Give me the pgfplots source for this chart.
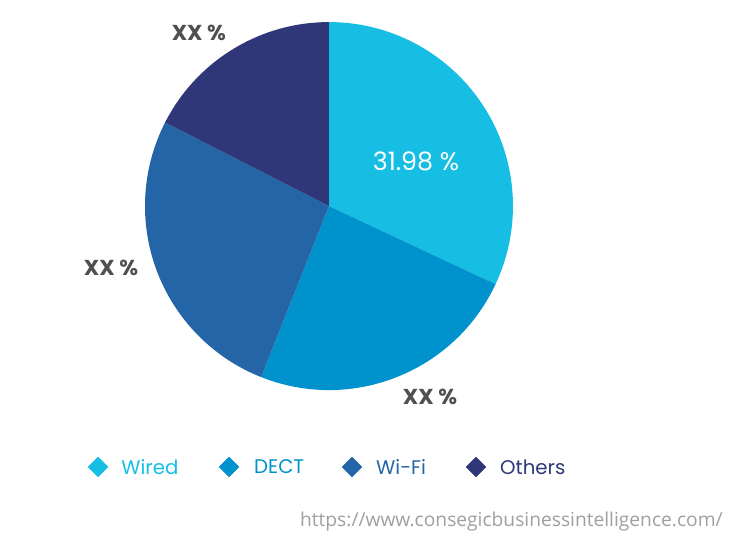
\documentclass[border=0pt]{standalone}
\usepackage{pgfplots}
\usepackage{pgfplotstable}
\pgfplotsset{compat=1.18}
\usepackage{fontspec}
\setmainfont{Poppins}
\newfontfamily\urlfont{Open Sans}
\definecolor{cWired}{RGB}{22,190,228}
\definecolor{cDECT}{RGB}{0,146,204}
\definecolor{cWiFi}{RGB}{35,101,166}
\definecolor{cOthers}{RGB}{48,55,120}
\definecolor{lab}{RGB}{80,80,80}
\pgfplotstableread{
label pct
Wired 31.98
DECT 24.03
WiFi 26.50
Others 17.49
}\pietable
\pgfplotstablegetelem{0}{pct}\of\pietable \let\pA\pgfplotsretval
\pgfplotstablegetelem{1}{pct}\of\pietable \let\pB\pgfplotsretval
\pgfplotstablegetelem{2}{pct}\of\pietable \let\pC\pgfplotsretval
\pgfplotstablegetelem{3}{pct}\of\pietable \let\pD\pgfplotsretval
\pgfmathsetmacro\aS{90}
\pgfmathsetmacro\aA{90-3.6*\pA}
\pgfmathsetmacro\aB{\aA-3.6*\pB}
\pgfmathsetmacro\aC{\aB-3.6*\pC}
\pgfmathsetmacro\aD{\aC-3.6*\pD}
\begin{document}
\begin{tikzpicture}
\begin{axis}[x=138pt, y=138pt, xmin=-1.788, xmax=2.185, ymin=-1.815, ymax=1.120,
  hide axis, clip=false]
\path (rel axis cs:0,0) rectangle (rel axis cs:1,1);
\fill[cWired] (axis cs:0,0) -- (axis cs:{cos(\aS)},{sin(\aS)}) arc[start angle=\aS, end angle=\aA, radius=138pt] -- cycle;
\fill[cDECT] (axis cs:0,0) -- (axis cs:{cos(\aA)},{sin(\aA)}) arc[start angle=\aA, end angle=\aB, radius=138pt] -- cycle;
\fill[cWiFi] (axis cs:0,0) -- (axis cs:{cos(\aB)},{sin(\aB)}) arc[start angle=\aB, end angle=\aC, radius=138pt] -- cycle;
\fill[cOthers] (axis cs:0,0) -- (axis cs:{cos(\aC)},{sin(\aC)}) arc[start angle=\aC, end angle=\aD, radius=138pt] -- cycle;
\node[white, font=\fontsize{19}{21}\selectfont] at (axis cs:0.473,0.245) {31.98 \%};
\node[lab, font=\bfseries\fontsize{16.2}{18}\selectfont] at (axis cs:-0.707,0.940) {XX \%};
\node[lab, font=\bfseries\fontsize{16.2}{18}\selectfont] at (axis cs:-1.185,-0.337) {XX \%};
\node[lab, font=\bfseries\fontsize{16.2}{18}\selectfont] at (axis cs:0.549,-1.038) {XX \%};
% legend
\addplot[only marks, mark=square*, mark size=5.2pt, mark options={rotate=45, cWired}] coordinates {(-1.255,-1.418)};
\addplot[only marks, mark=square*, mark size=5.2pt, mark options={rotate=45, cDECT}] coordinates {(-0.543,-1.418)};
\addplot[only marks, mark=square*, mark size=5.2pt, mark options={rotate=45, cWiFi}] coordinates {(0.125,-1.418)};
\addplot[only marks, mark=square*, mark size=5.2pt, mark options={rotate=45, cOthers}] coordinates {(0.799,-1.418)};
\node[cWired, anchor=west, inner sep=0pt, font=\fontsize{14.8}{16}\selectfont] at (axis cs:-1.130,-1.418) {Wired};
\node[cDECT, anchor=west, inner sep=0pt, font=\fontsize{14.8}{16}\selectfont] at (axis cs:-0.408,-1.418) {DECT};
\node[cWiFi, anchor=west, inner sep=0pt, font=\fontsize{14.8}{16}\selectfont] at (axis cs:0.255,-1.418) {Wi-Fi};
\node[cOthers, anchor=west, inner sep=0pt, font=\fontsize{14.8}{16}\selectfont] at (axis cs:0.929,-1.418) {Others};
\node[gray!75, anchor=east, inner sep=0pt, font=\urlfont\fontsize{14.4}{16}\selectfont] at (axis cs:2.141,-1.712) {https://www.consegicbusinessintelligence.com/};
\end{axis}
\end{tikzpicture}
\end{document}
